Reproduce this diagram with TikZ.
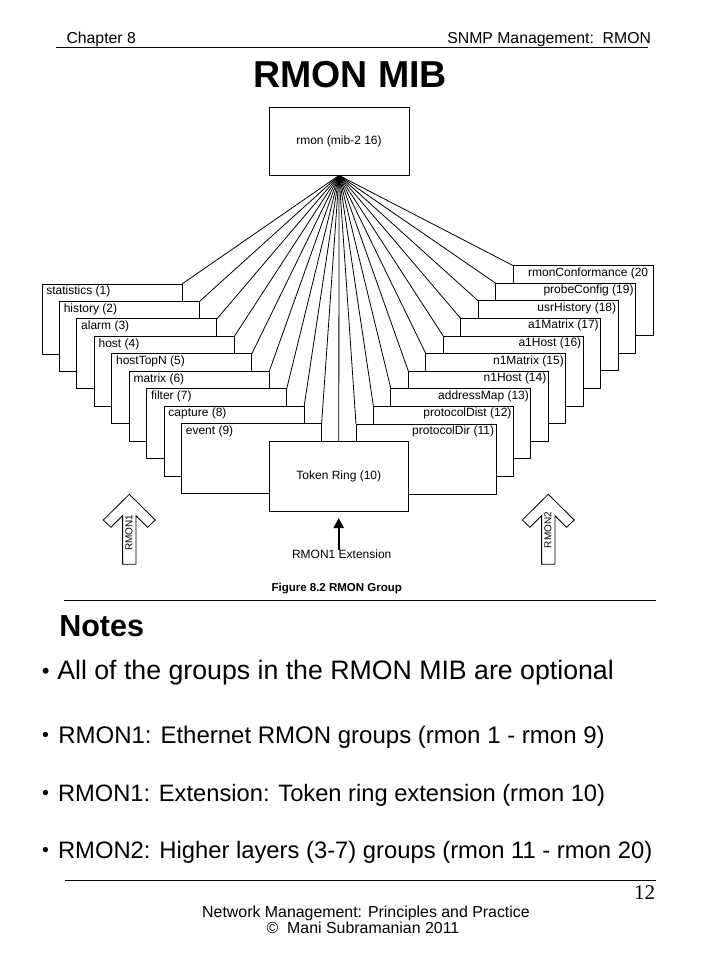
\documentclass[tikz,border=0pt]{standalone}
\usepackage{fontspec}
\setmainfont{Liberation Sans}
\newfontfamily\serifnum{Liberation Serif}
\usetikzlibrary{arrows.meta}
\pgfdeclarelayer{bg}
\pgfsetlayers{bg,main}
\tikzset{
  grp/.style={draw, fill=white, line width=0.9pt, minimum width=140pt, minimum height=70pt,
              inner sep=0pt, outer sep=0pt, anchor=north west},
  fs/.style={font=\fontsize{#1}{#1}\selectfont},
  fsb/.style={font=\bfseries\fontsize{#1}{#1}\selectfont},
  plain/.style={inner sep=0pt, outer sep=0pt},
  lt/.style={plain, anchor=base west, fs=12},
  rt/.style={plain, anchor=base east, fs=12},
  fan/.style={line width=0.8pt},
  rulel/.style={line width=1.2pt},
  hollowarrow/.pic={
    \draw[line width=0.8pt, fill=white] (0,0) -- (-26,25.7) -- (-18.3,33) -- (-6.7,21.4)
      -- (-6.7,70) -- (6.7,70) -- (6.7,21.4) -- (18.3,33) -- (26,25.7) -- cycle;
  }
}
\begin{document}
\begin{tikzpicture}[x=1pt,y=-1pt]
\useasboundingbox (0,0) rectangle (720,960);
\begin{pgfonlayer}{bg}
\fill[white] (0,0) rectangle (720,960);
\end{pgfonlayer}

% header
\node[plain, fs=15.8, anchor=base west] (chap) at (66.5,43.5) {Chapter 8};
\node[plain, fs=15.8, anchor=base east] (snmp) at (651,43.5) {SNMP Management:\ \ RMON};
\coordinate (hl1) at (56,47.5);
\coordinate (hl2) at (648,47.5);
\draw[rulel] (hl1) -- (hl2);
\node[plain, fsb=37.5, anchor=base] (title) at (350,88) {RMON MIB};

% root box
\node[draw, fill=white, line width=0.9pt, minimum width=140pt, minimum height=68pt,
      inner sep=0pt, fs=12] (rmon) at (339,141) {rmon (mib-2 16)};

% left stack (RMON1)
\foreach \i/\txt in {1/statistics (1),2/history (2),3/alarm (3),4/host (4),5/hostTopN (5),
                     6/matrix (6),7/filter (7),8/capture (8),9/event (9)}{
  \pgfmathsetmacro\xx{42+17.45*(\i-1)}
  \pgfmathsetmacro\yy{284+17.45*(\i-1)}
  \node[grp] (L\i) at (\xx,\yy) {};
  \node[lt] (LT\i) at ([xshift=4.3pt,yshift=-10.8pt]L\i.north west) {\txt};
}

% right stack (RMON2)
\node[grp] (R20) at (513.1,265.6) {};
\node[lt] (RT20) at ([xshift=15pt,yshift=-10.5pt]R20.north west) {rmonConformance (20};
\foreach \j/\txt in {19/probeConfig (19),18/usrHistory (18),17/a1Matrix (17),16/a1Host (16),
                     15/n1Matrix (15),14/n1Host (14),13/addressMap (13),12/protocolDist (12),
                     11/protocolDir (11)}{
  \pgfmathsetmacro\xx{356+17.45*(\j-11)}
  \pgfmathsetmacro\yy{424-17.6*(\j-11)}
  \node[grp] (R\j) at (\xx,\yy) {};
  \node[rt] (RT\j) at ([xshift=-2pt,yshift=-10.5pt]R\j.north east) {\txt};
}

% token ring
\node[draw, fill=white, line width=0.9pt, minimum width=139pt, minimum height=69.3pt,
      inner sep=0pt, fs=12] (tr) at (338.8,476.3) {Token Ring (10)};

% fan of connectors
\begin{pgfonlayer}{bg}
\foreach \i in {1,...,9} \draw[fan] (rmon.south) -- (L\i.north east);
\foreach \j in {11,...,20} \draw[fan] (rmon.south) -- (R\j.north west);
\draw[fan] (rmon.south) -- (tr.north);
\end{pgfonlayer}

% hollow arrows
\pic at (129.3,494.3) {hollowarrow};
\node[plain, rotate=90, fs=10] (rm1) at (129,532.5) {RMON1};
\pic at (548.3,494.3) {hollowarrow};
\node[plain, rotate=90, fs=10] (rm2) at (547.8,530) {RMON2};

% RMON1 extension
\node[plain, fs=12, anchor=base] (ext) at (341.7,558.3) {RMON1 Extension};
\coordinate (extTip) at (338.7,518);
\draw[line width=2pt, -{Triangle[length=10pt,width=10pt]}] (ext.north -| extTip) -- (extTip);

\node[plain, fsb=11.5, anchor=base] (cap) at (336.7,591.5) {Figure 8.2 RMON Group};
\coordinate (fl1) at (64,600.7);
\coordinate (fl2) at (656,600.7);
\draw[rulel] (fl1) -- (fl2);

% notes
\node[plain, fsb=30.5, anchor=base west] (notes) at (59.3,636) {Notes};
\node[plain, fs=22, anchor=base west] (b1) at (41.8,678) {•};
\node[plain, fs=26.7, anchor=base west] (n1) at (57.3,679.3) {All of the groups in the RMON MIB are optional};
\node[plain, fs=19.5, anchor=base west] (b2) at (42.2,741.3) {•};
\node[plain, fs=24, anchor=base west] (n2) at (58.3,743.3) {RMON1: Ethernet RMON groups (rmon 1 - rmon 9)};
\node[plain, fs=19.5, anchor=base west] (b3) at (42.2,799.7) {•};
\node[plain, fs=23.7, anchor=base west] (n3) at (58,801.7) {RMON1: Extension: Token ring extension (rmon 10)};
\node[plain, fs=19.5, anchor=base west] (b4) at (42.2,856.3) {•};
\node[plain, fs=23.8, anchor=base west] (n4) at (58,858.3) {RMON2: Higher layers (3-7) groups (rmon 11 - rmon 20)};

% footer
\coordinate (ft1) at (64.5,880.5);
\coordinate (ft2) at (656,880.5);
\draw[rulel] (ft1) -- (ft2);
\node[plain, font=\serifnum\fontsize{21}{21}\selectfont, anchor=base east] (pg) at (655,899) {12};
\node[plain, fs=15.9, anchor=base] (ftA) at (366,917) {Network Management: Principles and Practice};
\node[plain, fs=15.9, anchor=base] (ftB) at (363,933) {©\ \ Mani Subramanian 2011};
\end{tikzpicture}
\end{document}
